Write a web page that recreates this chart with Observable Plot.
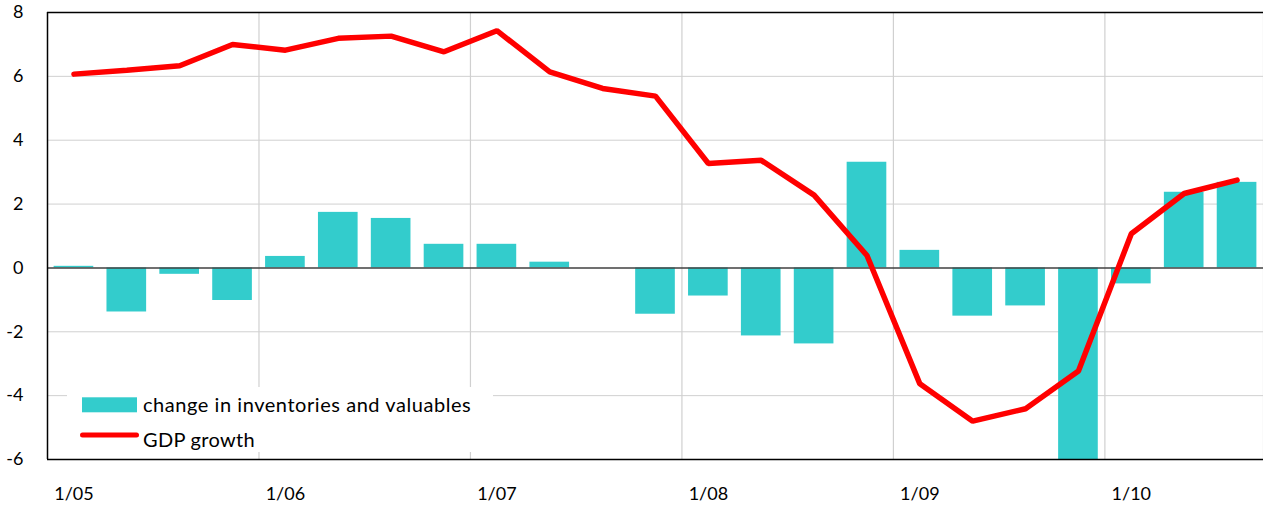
<!DOCTYPE html>
<html>
<head>
<meta charset="utf-8">
<script src="https://cdn.jsdelivr.net/npm/d3@7"></script>
<script src="https://cdn.jsdelivr.net/npm/@observablehq/plot@0.6"></script>
<style>
  html, body { margin: 0; padding: 0; background: #fff; }
  #wrap { position: relative; width: 1263px; height: 509px; font-family: Lato, "Open Sans", sans-serif; }
  #legend { position: absolute; left: 67px; top: 387px; }
</style>
</head>
<body>
<div id="wrap"></div>
<script>
// Quarters 2005Q1 .. 2010Q3
const quarters = ["2005Q1","2005Q2","2005Q3","2005Q4","2006Q1","2006Q2","2006Q3","2006Q4",
  "2007Q1","2007Q2","2007Q3","2007Q4","2008Q1","2008Q2","2008Q3","2008Q4",
  "2009Q1","2009Q2","2009Q3","2009Q4","2010Q1","2010Q2","2010Q3"];
// change in inventories and valuables (contribution, pp)
const inventories = [0.05, -1.38, -0.2, -1.02, 0.36, 1.74, 1.55, 0.74,
  0.74, 0.18, 0, -1.45, -0.88, -2.13, -2.38, 3.31,
  0.55, -1.51, -1.19, -6.4, -0.5, 2.37, 2.68];
// GDP growth (%)
const gdpGrowth = [6.07, 6.19, 6.33, 7.0, 6.82, 7.19, 7.26, 6.77,
  7.43, 6.14, 5.62, 5.38, 3.27, 3.37, 2.28, 0.39,
  -3.63, -4.8, -4.41, -3.23, 1.07, 2.33, 2.75];
const yearLabels = ["1/05","1/06","1/07","1/08","1/09","1/10"];
const yTicks = [-6, -4, -2, 0, 2, 4, 6, 8];
const seriesNames = ["change in inventories and valuables", "GDP growth"];
const colors = ["#33cccc", "#ff0000"];

const data = quarters.map((q, i) => ({i, q, inv: inventories[i], gdp: gdpGrowth[i]}));
const yearStarts = yearLabels.map((_, k) => k * 4);
const yearBounds = yearStarts.slice(1).map(s => s - 0.5).concat([quarters.length - 0.5]);

const chart = Plot.plot({
  width: 1263,
  height: 509,
  marginTop: 12,
  marginBottom: 50,
  marginLeft: 47,
  marginRight: 0,
  style: {fontFamily: "Lato, 'Open Sans', sans-serif", fontSize: "18px", color: "#000", background: "#fff"},
  x: {type: "linear", domain: [-0.5, quarters.length - 0.5], axis: null, label: null},
  y: {domain: [-6, 8], axis: null, label: null},
  marks: [
    Plot.ruleY(yTicks.filter(t => t !== 0 && t !== -6 && t !== 8), {stroke: "#d0d0d0", strokeWidth: 1}),
    Plot.ruleX(yearBounds, {stroke: "#d0d0d0", strokeWidth: 1.2}),
    Plot.rectY(data, {x1: d => d.i - 0.375, x2: d => d.i + 0.375, y1: 0, y2: "inv", fill: colors[0], clip: true}),
    Plot.ruleY([0], {stroke: "#404040", strokeWidth: 1.5}),
    Plot.line(data, {x: "i", y: "gdp", stroke: colors[1], strokeWidth: 5.5, strokeLinejoin: "miter", strokeLinecap: "round"}),
    Plot.ruleY([8, -6], {stroke: "#000", strokeWidth: 1.5}),
    Plot.ruleX([-0.5], {stroke: "#000", strokeWidth: 1.5}),
    Plot.axisY({ticks: yTicks, tickSize: 0, tickPadding: 24, fontSize: 18, label: null, tickFormat: d => String(d)}),
    Plot.axisX({ticks: yearStarts, tickSize: 0, tickPadding: 28, fontSize: 18, label: null, tickFormat: i => yearLabels[i / 4]})
  ]
});

const wrap = document.getElementById("wrap");
wrap.appendChild(chart);

// Legend inside the plot area (lower-left), white background
const ns = "http://www.w3.org/2000/svg";
const leg = document.createElementNS(ns, "svg");
leg.setAttribute("id", "legend");
leg.setAttribute("width", "426");
leg.setAttribute("height", "65");
leg.style.fontFamily = "Lato, 'Open Sans', sans-serif";
leg.innerHTML = `
  <rect x="0" y="0" width="426" height="65" fill="#fff"></rect>
  <rect x="15" y="10.3" width="55" height="15" fill="${colors[0]}"></rect>
  <text x="76" y="25.3" font-size="20" letter-spacing="0.55" fill="#000">${seriesNames[0]}</text>
  <line x1="15.5" y1="48" x2="69.5" y2="48" stroke="${colors[1]}" stroke-width="5" stroke-linecap="round"></line>
  <text x="76" y="59.7" font-size="20" letter-spacing="0.3" fill="#000">${seriesNames[1]}</text>
`;
wrap.appendChild(leg);
</script>
</body>
</html>
